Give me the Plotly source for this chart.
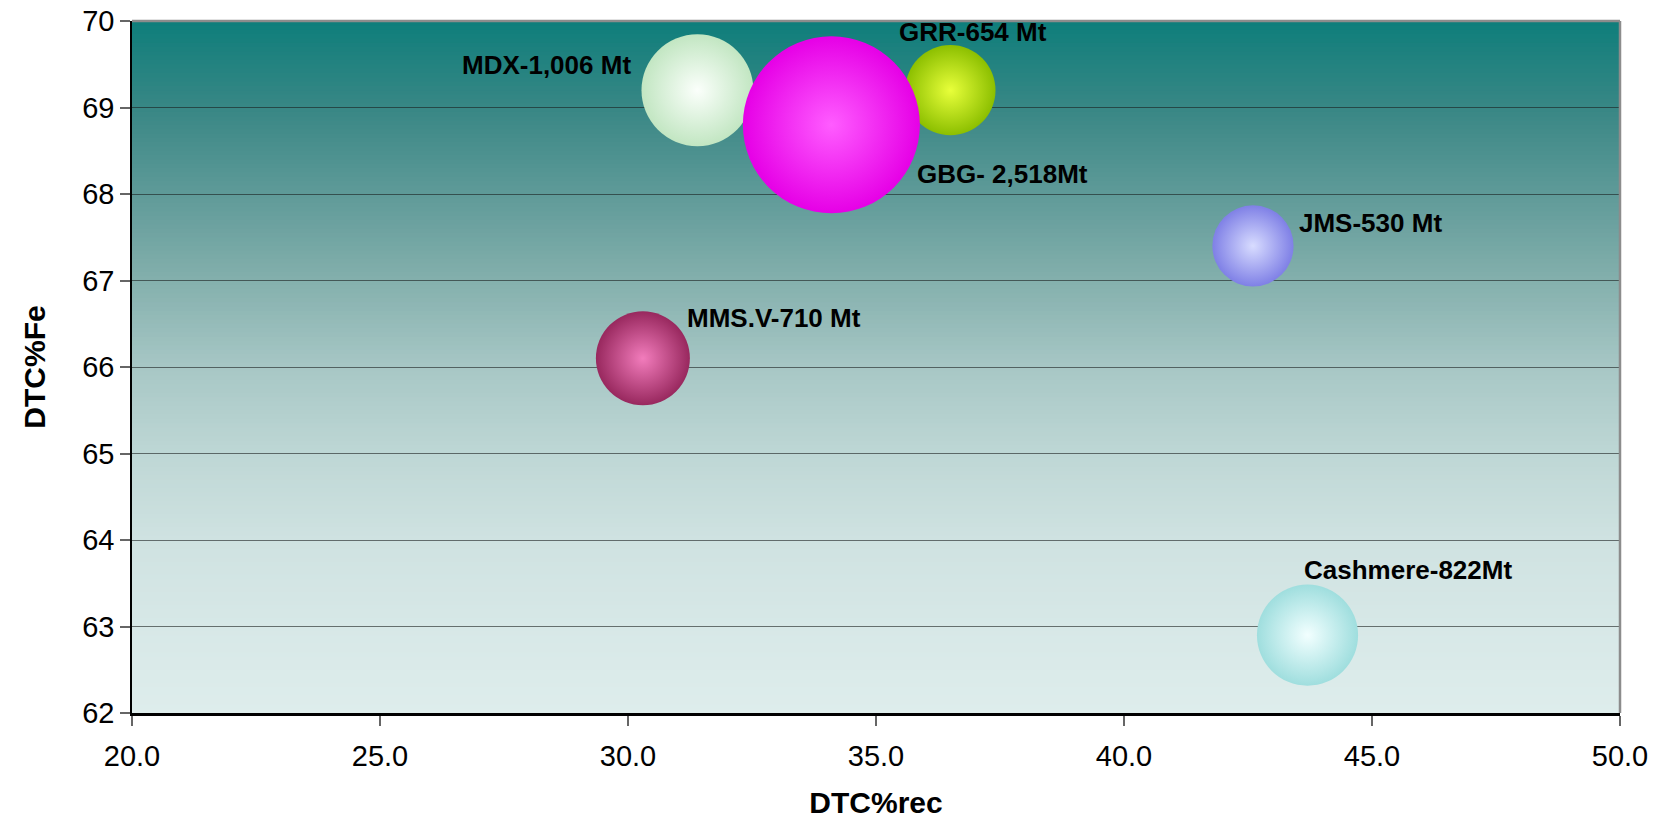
import plotly.graph_objects as go

# Deposit data: concentrate recovery (%), concentrate grade (%Fe), resource size (Mt)
deposits = ["Cashmere", "JMS", "MMS.V", "MDX", "GRR", "GBG"]
dtc_rec = [43.7, 42.6, 30.3, 31.4, 36.5, 34.1]
dtc_fe = [62.9, 67.4, 66.1, 69.2, 69.2, 68.8]
tonnage_mt = [822, 530, 710, 1006, 654, 2518]
labels = ["Cashmere-822Mt", "JMS-530 Mt", "MMS.V-710 Mt", "MDX-1,006 Mt", "GRR-654 Mt", "GBG- 2,518Mt"]

x_ticks = [20, 25, 30, 35, 40, 45, 50]
y_ticks = [62, 63, 64, 65, 66, 67, 68, 69, 70]

# Sphere colours: edge (base) and centre highlight
edge_colors = ["#9fdede", "#7f80e6", "#98285e", "#c2e6c2", "#8cbf00", "#e600e6"]
center_colors = ["#f2ffff", "#d8dcff", "#f27cbc", "#fbfffb", "#e8ff3a", "#ff5cff"]
# Label placement relative to each bubble (pixels)
label_anchor = ["left", "left", "left", "right", "left", "left"]
label_dx = [-6, 44, 42, -64, -53, 84]
label_dy = [65, 23, 40, 25, 58, -49]

fig = go.Figure()

fig.add_trace(go.Scatter(
    x=dtc_rec,
    y=dtc_fe,
    mode="markers",
    text=deposits,
    marker=dict(
        size=tonnage_mt,
        sizemode="area",
        sizeref=2 * max(tonnage_mt) / (177 ** 2),
        color=edge_colors,
        opacity=1,
        line=dict(width=0),
        gradient=dict(type="radial", color=center_colors),
    ),
    hovertemplate="%{text}<br>DTC%%rec: %{x}<br>DTC%%Fe: %{y}<extra></extra>",
    showlegend=False,
))

for xv, yv, lab, anc, dx, dy in zip(dtc_rec, dtc_fe, labels, label_anchor, label_dx, label_dy):
    fig.add_annotation(
        x=xv, y=yv, text=lab, showarrow=False,
        xanchor=anc, yanchor="middle", xshift=dx, yshift=dy,
        font=dict(family="Liberation Sans, Arial, sans-serif", size=26, color="#000000", weight="bold"),
    )

# Vertical gradient background of the plotting area
stops = [
    (0.000, (222, 237, 236)),
    (0.125, (215, 232, 231)),
    (0.250, (207, 226, 225)),
    (0.375, (190, 215, 213)),
    (0.500, (167, 199, 197)),
    (0.625, (132, 176, 173)),
    (0.750, (95, 154, 152)),
    (0.875, (56, 135, 133)),
    (1.000, (14, 126, 123)),
]


def grad_color(t):
    for (t0, c0), (t1, c1) in zip(stops[:-1], stops[1:]):
        if t0 <= t <= t1:
            f = (t - t0) / (t1 - t0)
            return "rgb(%d,%d,%d)" % tuple(round(a + (b - a) * f) for a, b in zip(c0, c1))
    return "rgb(%d,%d,%d)" % stops[-1][1]


n_bands = 160
shapes = []
for i in range(n_bands):
    t0 = i / n_bands
    t1 = (i + 1) / n_bands
    shapes.append(dict(
        type="rect", xref="x domain", yref="y domain",
        x0=0, x1=1, y0=t0, y1=min(1, t1 + 0.002),
        fillcolor=grad_color((t0 + t1) / 2), line=dict(width=0), layer="below",
    ))

# Grey frame on the top and right of the plotting area
shapes.append(dict(type="line", xref="x domain", yref="y domain", x0=0, x1=1, y0=1, y1=1,
                   line=dict(color="#8c8c8c", width=2.5), layer="above"))
shapes.append(dict(type="line", xref="x domain", yref="y domain", x0=1, x1=1, y0=0, y1=1,
                   line=dict(color="#8c8c8c", width=2.5), layer="above"))

tick_font = dict(family="Liberation Sans, Arial, sans-serif", size=29, color="#000000")
title_font = dict(family="Liberation Sans, Arial, sans-serif", size=30, color="#000000", weight="bold")

fig.update_layout(
    width=1659,
    height=819,
    margin=dict(l=132, r=39, t=21, b=106, autoexpand=False),
    paper_bgcolor="#ffffff",
    plot_bgcolor="rgba(0,0,0,0)",
    shapes=shapes,
    xaxis=dict(
        range=[20, 50],
        tickvals=x_ticks,
        ticktext=["%.1f" % v for v in x_ticks],
        showgrid=False,
        zeroline=False,
        automargin=False,
        showline=True, linecolor="#000000", linewidth=2.5,
        ticks="outside", ticklen=10, tickcolor="#666666", tickwidth=1.5,
        ticklabelstandoff=5,
        tickfont=tick_font,
        title=dict(text="DTC%rec", font=title_font, standoff=22),
    ),
    yaxis=dict(
        range=[62, 70],
        tickvals=y_ticks,
        showgrid=True, gridcolor="rgba(25,30,30,0.6)", gridwidth=1.2,
        zeroline=False,
        automargin=False,
        showline=True, linecolor="#000000", linewidth=1.5,
        ticks="outside", ticklen=10, tickcolor="#666666", tickwidth=1.5,
        tickfont=tick_font,
        title=dict(text="DTC%Fe", font=title_font, standoff=28),
    ),
)

fig.write_html("out.html")
